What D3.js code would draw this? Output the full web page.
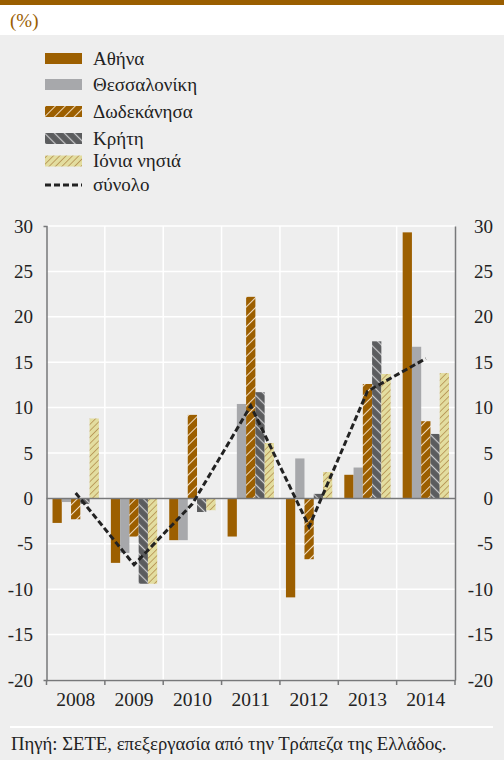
<!DOCTYPE html>
<html>
<head>
<meta charset="utf-8">
<script src="https://cdn.jsdelivr.net/npm/d3@7"></script>
<style>
  body { margin: 0; background: #eeeeee; }
  svg, svg text { font-family: "Liberation Serif", "Times New Roman", serif !important; }
</style>
</head>
<body>
<div id="chart"></div>
<script>
// data (%)
const years = ["2008", "2009", "2010", "2011", "2012", "2013", "2014"];
const regions = ["Αθήνα", "Θεσσαλονίκη", "Δωδεκάνησα", "Κρήτη", "Ιόνια νησιά"];
const athens = [-2.7, -7.1, -4.6, -4.2, -10.9, 2.6, 29.3];
const thessaloniki = [-0.4, -6.0, -4.6, 10.4, 4.4, 3.4, 16.7];
const dodecanese = [-2.3, -4.2, 9.2, 22.2, -6.7, 12.6, 8.5];
const crete = [-0.6, -9.4, -1.5, 11.7, 0.5, 17.3, 7.1];
const ionian = [8.8, -9.4, -1.3, 6.1, 2.9, 13.7, 13.8];
const total = [0.6, -7.3, -0.6, 10.2, -3.1, 11.8, 15.4];
const totalLabel = "σύνολο";
const yTicks = [-20, -15, -10, -5, 0, 5, 10, 15, 20, 25, 30];

const width = 504;
const height = 760;
const plot = { left: 46.5, right: 455, top: 226, bottom: 680 };
const serif = '"Liberation Serif", "Times New Roman", serif';

const seriesValues = [athens, thessaloniki, dodecanese, crete, ionian];
const fills = ["#9c5f00", "#a7a8ab", "url(#patDodec)", "url(#patCrete)", "url(#patIonian)"];

const svg = d3
  .select("#chart")
  .append("svg")
  .attr("width", width)
  .attr("height", height)
  .attr("font-family", serif);

// patterns for the hatched series
const defs = svg.append("defs");
function addPattern(id, bg, stroke, gap, angle, sw) {
  const p = defs
    .append("pattern")
    .attr("id", id)
    .attr("patternUnits", "userSpaceOnUse")
    .attr("width", gap)
    .attr("height", gap)
    .attr("patternTransform", `rotate(${angle})`);
  p.append("rect").attr("width", gap).attr("height", gap).attr("fill", bg);
  p.append("line")
    .attr("x1", gap / 2).attr("x2", gap / 2)
    .attr("y1", 0).attr("y2", gap)
    .attr("stroke", stroke)
    .attr("stroke-width", sw);
}
addPattern("patDodec", "#9c5f00", "#f0dcc0", 7, 45, 1);
addPattern("patCrete", "#5b5c5e", "#cdcdcf", 7, -45, 1.2);
addPattern("patIonian", "#e3dd9f", "#b9995a", 4.5, 45, 0.9);

// background: top bar, white header band, grey body
svg.append("rect").attr("width", width).attr("height", height).attr("fill", "#eeeeee");
svg.append("rect").attr("width", width).attr("height", 35).attr("fill", "#ffffff");
svg.append("rect").attr("width", width).attr("height", 5).attr("fill", "#9a5e00");
svg.append("text")
  .attr("x", 10)
  .attr("y", 27)
  .style("font-size", "19px")
  .attr("fill", "#9a5e00")
  .text("(%)");

// legend
const legendRows = [58.5, 84.5, 111.5, 138.5, 161, 185];
const legend = svg
  .selectAll(".legend")
  .data(regions.concat([totalLabel]))
  .enter()
  .append("g")
  .attr("class", "legend")
  .attr("transform", (d, i) => `translate(45, ${legendRows[i]})`);

legend
  .filter((d, i) => i < 5)
  .append("rect")
  .attr("y", -5.5)
  .attr("width", 37)
  .attr("height", 11)
  .attr("fill", (d, i) => fills[i]);

legend
  .filter((d, i) => i === 5)
  .append("line")
  .attr("x1", 0).attr("x2", 37)
  .attr("stroke", "#222")
  .attr("stroke-width", 3)
  .attr("stroke-dasharray", "6,3");

legend
  .append("text")
  .attr("x", 48)
  .attr("y", 6)
  .style("font-size", "19px")
  .attr("fill", "#222")
  .text((d) => d);

// scales
const yScale = d3.scaleLinear().domain([-20, 30]).range([plot.bottom, plot.top]);
const x0 = d3.scaleBand().domain(years).range([plot.left, plot.right]).padding(0);
const x1 = d3
  .scaleBand()
  .domain(d3.range(regions.length))
  .range([0, x0.bandwidth()])
  .paddingInner(0)
  .paddingOuter(0.65);

// white grid
svg.append("g")
  .selectAll("line")
  .data(yTicks)
  .enter()
  .append("line")
  .attr("x1", plot.left).attr("x2", plot.right)
  .attr("y1", (d) => yScale(d)).attr("y2", (d) => yScale(d))
  .attr("stroke", "#ffffff")
  .attr("stroke-width", 1.5);

svg.append("g")
  .selectAll("line")
  .data(years.slice(1))
  .enter()
  .append("line")
  .attr("x1", (d) => x0(d)).attr("x2", (d) => x0(d))
  .attr("y1", plot.top).attr("y2", plot.bottom)
  .attr("stroke", "#ffffff")
  .attr("stroke-width", 1.5);

// bars
const groups = svg
  .selectAll(".year")
  .data(years)
  .enter()
  .append("g")
  .attr("class", "year")
  .attr("transform", (d) => `translate(${x0(d)},0)`);

groups
  .selectAll("rect")
  .data((d, yi) => seriesValues.map((s, si) => ({ si: si, v: s[yi] })))
  .enter()
  .append("rect")
  .attr("x", (d) => x1(d.si))
  .attr("width", x1.bandwidth())
  .attr("y", (d) => yScale(Math.max(0, d.v)))
  .attr("height", (d) => Math.abs(yScale(d.v) - yScale(0)))
  .attr("fill", (d) => fills[d.si]);

// zero line
svg.append("line")
  .attr("x1", plot.left).attr("x2", plot.right)
  .attr("y1", yScale(0)).attr("y2", yScale(0))
  .attr("stroke", "#77787a")
  .attr("stroke-width", 1.5);

// total line
const line = d3
  .line()
  .x((d, i) => x0(years[i]) + x0.bandwidth() / 2)
  .y((d) => yScale(d));

svg.append("path")
  .datum(total)
  .attr("d", line)
  .attr("fill", "none")
  .attr("stroke", "#222")
  .attr("stroke-width", 3)
  .attr("stroke-dasharray", "6,3");

// axes
const axisColor = "#77787a";
const leftAxis = svg
  .append("g")
  .attr("transform", `translate(${plot.left},0)`)
  .call(d3.axisLeft(yScale).tickValues(yTicks).tickSize(0).tickPadding(13.5).tickSizeOuter(3));
const rightAxis = svg
  .append("g")
  .attr("transform", `translate(${plot.right},0)`)
  .call(d3.axisRight(yScale).tickValues(yTicks).tickSize(0).tickPadding(38).tickSizeOuter(0));
rightAxis.selectAll("text").attr("text-anchor", "end");

// d3 uses a real minus sign; the picture has a hyphen
[leftAxis, rightAxis].forEach((a) => {
  a.attr("font-family", serif);
  a.select(".domain").attr("stroke", axisColor).attr("stroke-width", 1.5);
  a.selectAll("text")
    .text((d) => String(d))
    .style("font-size", "19px")
    .attr("fill", "#222");
});

const bottomAxis = svg
  .append("g")
  .attr("transform", `translate(0,${plot.bottom})`)
  .call(d3.axisBottom(x0).tickSize(0).tickPadding(12).tickSizeOuter(0));
bottomAxis.attr("font-family", serif);
bottomAxis.select(".domain").attr("stroke", axisColor).attr("stroke-width", 1.5);
bottomAxis.selectAll("text")
  .style("font-size", "19.5px")
  .attr("fill", "#222");

// category boundary ticks below the axis
svg.append("g")
  .selectAll("line")
  .data(years.concat(["end"]))
  .enter()
  .append("line")
  .attr("x1", (d, i) => (i < years.length ? x0(d) : plot.right))
  .attr("x2", (d, i) => (i < years.length ? x0(d) : plot.right))
  .attr("y1", plot.bottom)
  .attr("y2", plot.bottom + 5)
  .attr("stroke", axisColor)
  .attr("stroke-width", 1.5);

// footer
svg.append("line")
  .attr("x1", 10).attr("x2", 493)
  .attr("y1", 727).attr("y2", 727)
  .attr("stroke", "#ffffff")
  .attr("stroke-width", 2);

svg.append("text")
  .attr("x", 11)
  .attr("y", 750)
  .style("font-size", "18.7px")
  .attr("fill", "#222")
  .text("Πηγή: ΣΕΤΕ, επεξεργασία από την Τράπεζα της Ελλάδος.");
</script>
</body>
</html>
